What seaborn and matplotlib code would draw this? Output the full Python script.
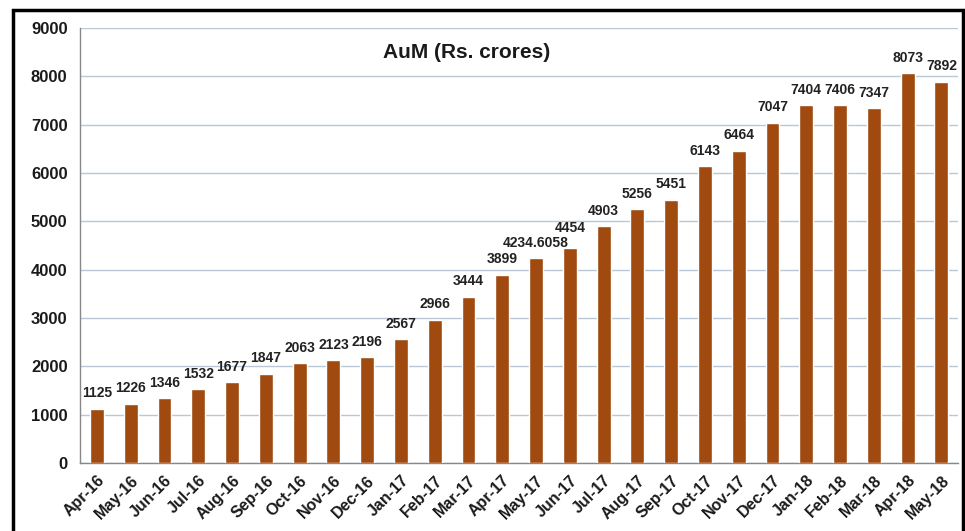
import numpy as np
import pandas as pd
import matplotlib
matplotlib.use("Agg")
import matplotlib.pyplot as plt
import seaborn as sns
from matplotlib.patches import Rectangle

months = ["Apr-16", "May-16", "Jun-16", "Jul-16", "Aug-16", "Sep-16", "Oct-16",
          "Nov-16", "Dec-16", "Jan-17", "Feb-17", "Mar-17", "Apr-17", "May-17",
          "Jun-17", "Jul-17", "Aug-17", "Sep-17", "Oct-17", "Nov-17", "Dec-17",
          "Jan-18", "Feb-18", "Mar-18", "Apr-18", "May-18"]
aum = [1125, 1226, 1346, 1532, 1677, 1847, 2063, 2123, 2196, 2567, 2966, 3444,
       3899, 4234.6058, 4454, 4903, 5256, 5451, 6143, 6464, 7047, 7404, 7406,
       7347, 8073, 7892]
value_labels = ["1125", "1226", "1346", "1532", "1677", "1847", "2063", "2123",
                "2196", "2567", "2966", "3444", "3899", "4234.6058", "4454",
                "4903", "5256", "5451", "6143", "6464", "7047", "7404", "7406",
                "7347", "8073", "7892"]
y_ticks = [0, 1000, 2000, 3000, 4000, 5000, 6000, 7000, 8000, 9000]

sns.set_style("white")
plt.rcParams['font.family'] = ['Liberation Sans', 'DejaVu Sans']

df = pd.DataFrame({'Month': months, 'AuM': aum})

fig = plt.figure(figsize=(9.65, 5.31), dpi=100)
ax = fig.add_axes([0.083, 0.128, 0.910, 0.819])

sns.barplot(data=df, x='Month', y='AuM', color='#A04A10', saturation=1,
            width=0.41, ax=ax, zorder=3)

# grid and axes
ax.set_ylim(0, 9000)
ax.set_xlim(-0.5, len(months) - 0.5)
ax.set_yticks(y_ticks)
ax.set_yticklabels([str(t) for t in y_ticks], fontsize=12, fontweight='bold',
                   color='#1a1a1a')
ax.yaxis.grid(True, color='#B9C7D6', linewidth=1, zorder=0)
ax.set_axisbelow(True)
ax.set_xlabel('')
ax.set_ylabel('')

ax.set_xticks(range(len(months)))
ax.set_xticklabels(months, rotation=45, ha='right', rotation_mode='anchor',
                   fontsize=11.5, fontweight='bold', color='#1a1a1a')
ax.tick_params(axis='x', which='major', length=0, pad=7)
ax.set_xticks(np.arange(-0.5, len(months)), minor=True)
ax.tick_params(axis='x', which='minor', length=5, color='#888888', width=1)
ax.tick_params(axis='y', which='major', length=5, color='#888888', width=1, pad=4)

for side in ['top', 'right']:
    ax.spines[side].set_visible(False)
for side in ['left', 'bottom']:
    ax.spines[side].set_color('#888888')
    ax.spines[side].set_linewidth(1)

# value labels
anns = []
for i, (v, lab) in enumerate(zip(aum, value_labels)):
    anns.append(ax.annotate(lab, (i, v), xytext=(0, 6), textcoords='offset points',
                            ha='center', va='bottom', fontsize=10,
                            fontweight='bold', color='#222222'))

# nudge a label up when it runs into the one before it
fig.canvas.draw()
renderer = fig.canvas.get_renderer()
prev = None
for a in anns:
    bb = a.get_window_extent(renderer)
    if prev is not None and bb.overlaps(prev):
        dy = prev.y1 - bb.y0 + 1
        ox, oy = a.xyann
        a.xyann = (ox, oy + dy * 72 / fig.dpi)
        bb = a.get_window_extent(renderer)
    prev = bb

ax.text(0.44, 0.945, 'AuM (Rs. crores)', transform=ax.transAxes,
        ha='center', va='center', fontsize=15, fontweight='bold',
        color='#1a1a1a')

# outer border
fig.patches.append(Rectangle((0.013, -0.05), 0.985, 1.031, transform=fig.transFigure,
                             fill=False, edgecolor='black', linewidth=2.5))

fig.savefig('out.png', dpi=100)
